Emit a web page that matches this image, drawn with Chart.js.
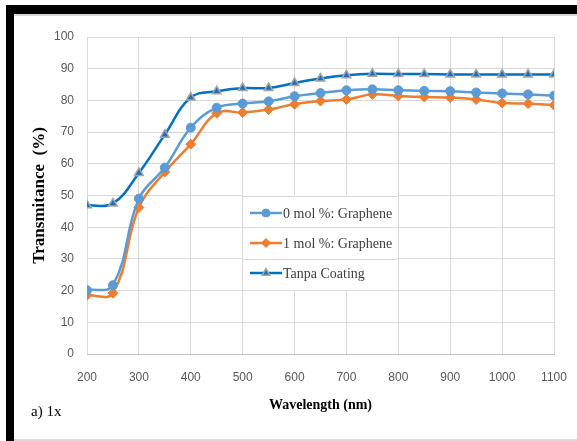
<!DOCTYPE html>
<html>
<head>
<meta charset="utf-8">
<script src="https://cdn.jsdelivr.net/npm/chart.js@4/dist/chart.umd.min.js"></script>
<style>
  html, body { margin: 0; padding: 0; background: #fff; }
  #wrap { position: relative; width: 577px; height: 441px; overflow: hidden; }
  #frame-top { position: absolute; left: 6px; top: 5px; width: 571px; height: 9px; background: #000; }
  #frame-top2 { position: absolute; left: 14px; top: 14px; width: 563px; height: 2px; background: #d8d8d8; }
  #frame-left { position: absolute; left: 6px; top: 5px; width: 8px; height: 436px; background: #000; }
  #frame-bottom { position: absolute; left: 14px; top: 439px; width: 563px; height: 2px; background: #d9d9d9; }
  #cap { position: absolute; left: 31px; top: 403px; font: 15px "Liberation Serif", serif; color: #000; }
  canvas { position: absolute; left: 0; top: 0; }
</style>
</head>
<body>
<div id="wrap">
  <canvas id="chart" width="577" height="441"></canvas>
  <div id="frame-top"></div>
  <div id="frame-top2"></div>
  <div id="frame-left"></div>
  <div id="frame-bottom"></div>
  <div id="cap">a) 1x</div>
</div>
<script>
const wavelengths = [200, 250, 300, 350, 400, 450, 500, 550, 600, 650, 700, 750, 800, 850, 900, 950, 1000, 1050, 1100];
const mol0 = [20.1, 21.7, 49.0, 58.8, 71.4, 77.7, 79.0, 79.7, 81.3, 82.3, 83.2, 83.5, 83.2, 83.0, 82.9, 82.5, 82.2, 81.9, 81.5];
const mol1 = [18.5, 19.2, 46.2, 57.4, 66.2, 76.0, 76.2, 77.1, 78.8, 79.8, 80.3, 81.9, 81.4, 81.1, 80.9, 80.3, 79.2, 79.0, 78.5];
const tanpa = [46.9, 47.5, 57.1, 69.2, 80.9, 82.9, 83.9, 83.9, 85.5, 86.9, 87.9, 88.4, 88.3, 88.3, 88.2, 88.2, 88.2, 88.2, 88.2];
const xTicks = [200, 300, 400, 500, 600, 700, 800, 900, 1000, 1100];
const seriesNames = ['0 mol %: Graphene', '1 mol %: Graphene', 'Tanpa Coating'];

const tickFont = { family: '"Liberation Sans", Arial, sans-serif', size: 12 };
const tickColor = '#595959';
const gridColor = '#d9d9d9';

function toPoints(vals) {
  return vals.map((v, i) => ({ x: wavelengths[i], y: v }));
}

// legend box inside the plot, white background hides vertical grid lines
const insideLegend = {
  id: 'insideLegend',
  beforeDatasetsDraw(chart) {
    const { ctx } = chart;
    const yScale = chart.scales.y;
    const box = { x: 243, y: 195, w: 155, h: 95 };
    ctx.save();
    ctx.fillStyle = '#fff';
    ctx.fillRect(box.x, box.y, box.w, box.h);
    ctx.strokeStyle = gridColor;
    ctx.lineWidth = 1;
    yScale.ticks.forEach(t => {
      const py = Math.round(yScale.getPixelForValue(t.value)) + 0.5;
      if (py > box.y && py < box.y + box.h) {
        ctx.beginPath();
        ctx.moveTo(box.x, py);
        ctx.lineTo(box.x + box.w, py);
        ctx.stroke();
      }
    });
    ctx.restore();
  },
  afterDatasetsDraw(chart) {
    const { ctx } = chart;
    ctx.save();
    chart.data.datasets.forEach((ds, i) => {
      const cy = 213 + i * 30;
      ctx.strokeStyle = ds.borderColor;
      ctx.lineWidth = 2.5;
      ctx.beginPath();
      ctx.moveTo(250, cy);
      ctx.lineTo(282, cy);
      ctx.stroke();
      ctx.fillStyle = ds.pointBackgroundColor;
      ctx.strokeStyle = ds.pointBorderColor;
      ctx.lineWidth = ds.pointBorderWidth;
      Chart.helpers.drawPoint(ctx, {
        pointStyle: ds.pointStyle,
        radius: ds.pointRadius - 0.5,
        borderWidth: ds.pointBorderWidth,
        rotation: 0
      }, 266, cy);
      ctx.fillStyle = '#404040';
      ctx.font = '14px "Liberation Serif", serif';
      ctx.textBaseline = 'middle';
      ctx.textAlign = 'left';
      ctx.fillText(ds.label, 283, cy + 1);
    });
    ctx.restore();
  }
};

new Chart(document.getElementById('chart'), {
  type: 'line',
  data: {
    datasets: [
      {
        label: seriesNames[0],
        data: toPoints(mol0),
        borderColor: '#5b9bd5',
        pointBackgroundColor: '#5b9bd5',
        pointBorderColor: '#5b9bd5',
        pointStyle: 'circle',
        pointRadius: 4.5,
        pointBorderWidth: 1,
        borderWidth: 2.5,
        tension: 0.4,
      },
      {
        label: seriesNames[1],
        data: toPoints(mol1),
        borderColor: '#ed7d31',
        pointBackgroundColor: '#ed7d31',
        pointBorderColor: '#ed7d31',
        pointStyle: 'rectRot',
        pointRadius: 5,
        pointBorderWidth: 1,
        borderWidth: 2.5,
        tension: 0.4,
      },
      {
        label: seriesNames[2],
        data: toPoints(tanpa),
        borderColor: '#0070c0',
        pointBackgroundColor: '#1f6fbf',
        pointBorderColor: '#a5a5a5',
        pointStyle: 'triangle',
        pointRadius: 5,
        pointBorderWidth: 1.5,
        borderWidth: 2.5,
        tension: 0.4,
      },
    ],
  },
  options: {
    responsive: false,
    animation: false,
    layout: { padding: { left: 15, right: 23, top: 37, bottom: 0 } },
    plugins: {
      legend: { display: false },
      tooltip: { enabled: false },
    },
    scales: {
      x: {
        type: 'linear',
        min: 200,
        max: 1100,
        afterBuildTicks: (scale) => { scale.ticks = xTicks.map(v => ({ value: v })); },
        afterFit: (scale) => { scale.height = 87; },
        // invisible tick marks push the labels down without widening the side padding
        grid: { color: gridColor, drawTicks: true, tickLength: 13, tickColor: 'rgba(0,0,0,0)' },
        border: { color: '#bfbfbf' },
        ticks: { font: tickFont, color: tickColor, padding: 3, maxRotation: 0, callback: (v) => String(v) },
        title: {
          display: true,
          text: 'Wavelength (nm)',
          font: { family: '"Liberation Serif", serif', size: 14, weight: 'bold' },
          color: '#000',
          padding: { top: 0, bottom: 27 },
        },
      },
      y: {
        min: 0,
        max: 100,
        afterFit: (scale) => { scale.width = 72; },
        grid: { color: gridColor, drawTicks: false },
        border: { display: false },
        ticks: { stepSize: 10, font: tickFont, color: tickColor, padding: 13 },
        title: {
          display: true,
          text: 'Transmitance  (%)',
          font: { family: '"Liberation Serif", serif', size: 17, weight: 'bold' },
          color: '#000',
          padding: { top: 14, bottom: 0 },
        },
      },
    },
  },
  plugins: [insideLegend],
});
</script>
</body>
</html>
